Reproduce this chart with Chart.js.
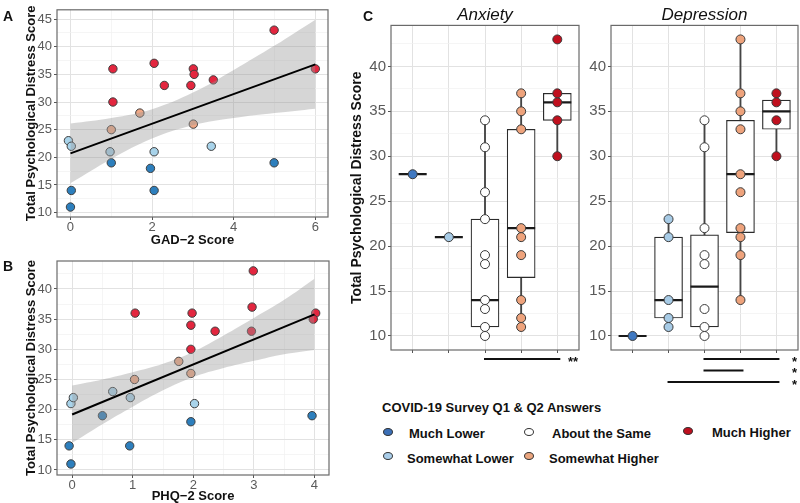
<!DOCTYPE html>
<html>
<head>
<meta charset="utf-8">
<script src="https://cdn.jsdelivr.net/npm/chart.js@4.4.1/dist/chart.umd.min.js"></script>
<style>
  body { margin: 0; background: #fff; font-family: "Liberation Sans", Arial, sans-serif; }
  #wrap { position: relative; width: 800px; height: 503px; overflow: hidden; background: #fff; }
  canvas { position: absolute; }
  .lbl { position: absolute; font-weight: bold; font-size: 13px; line-height: 13px; color: #111; white-space: nowrap; }
  .dot { position: absolute; width: 8px; height: 6px; border-radius: 50%; border: 1px solid #333; }
</style>
</head>
<body>
<div id="wrap">
  <canvas id="chartA" width="340" height="250" style="left:0;top:0"></canvas>
  <canvas id="chartB" width="340" height="264" style="left:0;top:240px"></canvas>
  <canvas id="chartAnx" width="230" height="400" style="left:350px;top:0"></canvas>
  <canvas id="chartDep" width="230" height="400" style="left:570px;top:0"></canvas>

  <div class="lbl" style="left:3px;top:10px;font-size:14px">A</div>
  <div class="lbl" style="left:3px;top:260px;font-size:14px">B</div>
  <div class="lbl" style="left:363px;top:10px;font-size:14px">C</div>

  <div class="lbl" style="left:382px;top:401px">COVID-19 Survey Q1 &amp; Q2 Answers</div>
  <div class="dot" style="left:383px;top:428px;background:#3b6fb6"></div>
  <div class="lbl" style="left:409px;top:427px">Much Lower</div>
  <div class="dot" style="left:524px;top:428px;background:#ffffff"></div>
  <div class="lbl" style="left:552px;top:427px">About the Same</div>
  <div class="dot" style="left:683px;top:427px;background:#be0f1e"></div>
  <div class="lbl" style="left:712px;top:426px">Much Higher</div>
  <div class="dot" style="left:383px;top:452px;background:#a9cde9"></div>
  <div class="lbl" style="left:407px;top:452px">Somewhat Lower</div>
  <div class="dot" style="left:524px;top:452px;background:#eaa57e"></div>
  <div class="lbl" style="left:549px;top:452px">Somewhat Higher</div>
</div>

<script>
Chart.defaults.font.family = '"Liberation Sans", Arial, Helvetica, sans-serif';
Chart.defaults.color = '#111';

// answer groups, left to right in panel C
const groups = ['Much Lower', 'Somewhat Lower', 'About the Same', 'Somewhat Higher', 'Much Higher'];
const boxColors = ['#3f78c1', '#a7cbe6', '#ffffff', '#eea37c', '#c0101e'];
const scatterColors = ['#2d7fbd', '#a8d3ea', '#ffffff', '#f0a886', '#e3263f'];

// Panel A: GAD-2 score vs total distress, [x, y]
const gadMuchLower = [[0.02, 14], [0, 11], [1, 19], [1.96, 18], [2.05, 14], [4.99, 19]];
const gadSomewhatLower = [[-0.05, 23], [0.02, 22], [0.97, 21], [2.05, 21], [3.45, 22]];
const gadSomewhatHigher = [[1, 25], [1.7, 28], [3.01, 26]];
const gadMuchHigher = [[1.04, 36], [1.04, 30], [2.05, 37], [2.3, 33], [3.01, 36], [3.03, 35], [2.95, 33], [3.5, 34], [4.99, 43], [6, 36]];
const gadFitX = [0, 6];
const gadFitY = [20.7, 36.8];
const gadBandX = [0, 1, 2, 3, 4, 5, 6];
const gadBandLow = [15.3, 19.7, 23.4, 25.8, 27.1, 28.0, 28.8];
const gadBandHigh = [26.1, 27.1, 28.7, 31.7, 35.8, 40.2, 44.9];

// Panel B: PHQ-2 score vs total distress, [x, y]
const phqMuchLower = [[-0.05, 14], [-0.02, 11], [0.5, 19], [0.95, 14], [1.96, 18], [3.96, 19]];
const phqSomewhatLower = [[-0.02, 21], [0.02, 22], [0.67, 23], [0.96, 22], [2.02, 21]];
const phqSomewhatHigher = [[1.03, 25], [1.76, 28], [1.96, 26]];
const phqMuchHigher = [[1.04, 36], [1.98, 36], [1.96, 34], [1.96, 30], [2.36, 33], [2.99, 43], [2.97, 37], [2.96, 33], [4.02, 36], [3.98, 35]];
const phqFitX = [0, 4];
const phqFitY = [19.2, 35.8];
const phqBandX = [0, 0.5, 1, 1.5, 2, 2.5, 3, 3.5, 4];
const phqBandLow = [14.5, 17.6, 20.5, 23.2, 25.4, 26.9, 28.1, 29.2, 29.9];
const phqBandHigh = [24.0, 25.0, 26.2, 27.6, 29.6, 32.3, 35.2, 38.2, 41.7];

// Panel C: Anxiety
const anxValues = [[28], [21], [34, 31, 26, 23, 19, 18, 14, 13, 11, 10], [37, 35, 33, 22, 21, 19, 14, 12, 11], [43, 37, 36, 34, 30]];
const anxQ1 = [28, 21, 11, 16.5, 34];
const anxMedian = [28, 21, 14, 22, 36];
const anxQ3 = [28, 21, 23, 33, 37];
const anxLow = [28, 21, 10, 11, 30];
const anxHigh = [28, 21, 34, 37, 37];
const anxSig = [[3, 5, '**']];

// Panel C: Depression
const depValues = [[10], [23, 21, 14, 12, 11], [34, 31, 22, 19, 18, 13, 11, 10], [43, 37, 35, 33, 28, 26, 22, 21, 19, 14], [37, 36, 34, 30]];
const depQ1 = [10, 12, 11, 21.5, 33];
const depMedian = [10, 14, 15.5, 28, 35];
const depQ3 = [10, 21, 21.25, 34, 36.25];
const depLow = [10, 11, 10, 14, 30];
const depHigh = [10, 23, 34, 43, 37];
const depSig = [[3, 5, '*'], [3, 4, '*'], [2, 5, '*']];

function pairs(list) { return list.map(([x, y]) => ({ x, y })); }
function zip(xs, ys) { return xs.map((x, i) => ({ x, y: ys[i] })); }
function isStep(v, step) { const r = v / step; return Math.abs(r - Math.round(r)) < 1e-6; }

function axis(o) {
  const major = o.major || o.step;
  const majorTick = c => !c.tick || isStep(c.tick.value, major);
  return {
    type: 'linear',
    min: o.min,
    max: o.max,
    offset: false,
    border: { display: false },
    grid: {
      offset: false,
      color: c => majorTick(c) ? '#e2e2e2' : '#f0f0f0',
      lineWidth: c => majorTick(c) ? 1 : 0.7,
      tickColor: c => (c.tick && isStep(c.tick.value, major)) ? '#555' : 'rgba(0,0,0,0)',
      tickLength: 3
    },
    ticks: {
      stepSize: o.step,
      includeBounds: false,
      autoSkip: false,
      maxRotation: 0,
      padding: o.pad != null ? o.pad : 2,
      color: '#5a5a5a',
      font: { size: o.size || 13 },
      callback: v => o.noLabels ? '' : (isStep(v, major) ? v : '')
    },
    title: o.title ? {
      display: true,
      text: o.title,
      color: '#111',
      font: { size: o.titleSize || 13, weight: 'bold', lineHeight: 1 },
      padding: o.titlePad
    } : { display: false },
    afterFit: s => {
      if (o.width != null) s.width = o.width;
      if (o.height != null) s.height = o.height;
    }
  };
}

// panel border drawn round the plot area
const framePlugin = {
  id: 'frame',
  afterDatasetsDraw(chart) {
    const { ctx, chartArea: a } = chart;
    ctx.save();
    ctx.strokeStyle = '#6a6a6a';
    ctx.lineWidth = 1.2;
    ctx.strokeRect(a.left, a.top, a.right - a.left, a.bottom - a.top);
    ctx.restore();
  }
};

// significance bars under panel C
const sigPlugin = {
  id: 'sig',
  afterDraw(chart, args, opts) {
    if (!opts.bars) return;
    const { ctx, chartArea: a } = chart;
    const xs = chart.scales.x;
    ctx.save();
    opts.bars.forEach(([from, to, label], row) => {
      const y = a.bottom + 9 + row * 11.5;
      ctx.strokeStyle = '#111';
      ctx.lineWidth = 2.2;
      ctx.beginPath();
      ctx.moveTo(xs.getPixelForValue(from) - 1, y);
      ctx.lineTo(xs.getPixelForValue(to) + 3, y);
      ctx.stroke();
      ctx.fillStyle = '#111';
      ctx.font = 'bold 13px "Liberation Sans", Arial, sans-serif';
      ctx.textAlign = 'right';
      ctx.textBaseline = 'middle';
      ctx.fillText(label, a.right - 1, y + 3);
    });
    ctx.restore();
  }
};

const baseOptions = {
  responsive: false,
  animation: false,
  events: [],
  plugins: { legend: { display: false }, tooltip: { enabled: false } }
};

function scatterPanel(id, sets, fitX, fitY, bandX, bandLow, bandHigh, xAxis, yAxis, padding) {
  const datasets = [
    { type: 'line', data: zip(fitX, fitY), borderColor: '#000', borderWidth: 2, pointRadius: 0, order: 0 },
    { type: 'line', data: zip(bandX, bandHigh), borderColor: 'rgba(0,0,0,0)', borderWidth: 0, pointRadius: 0,
      tension: 0.4, fill: '+1', backgroundColor: 'rgba(153,153,153,0.4)', order: 1 },
    { type: 'line', data: zip(bandX, bandLow), borderColor: 'rgba(0,0,0,0)', borderWidth: 0, pointRadius: 0,
      tension: 0.4, fill: false, order: 1 }
  ];
  sets.forEach(([pts, color]) => datasets.push({
    type: 'scatter', data: pairs(pts), backgroundColor: color, borderColor: '#3d3d3d',
    borderWidth: 1, pointRadius: 4.2, order: 2
  }));
  return new Chart(document.getElementById(id), {
    type: 'scatter',
    data: { datasets },
    options: { ...baseOptions, layout: { padding, autoPadding: false }, scales: { x: xAxis, y: yAxis } },
    plugins: [framePlugin]
  });
}

function boxPanel(id, title, values, q1, med, q3, lo, hi, sig, yAxis, padding) {
  const datasets = [];
  values.forEach((vals, g) => datasets.push({
    type: 'scatter', label: groups[g], data: vals.map(y => ({ x: g + 1, y })),
    backgroundColor: boxColors[g], borderColor: '#3a3a3a', borderWidth: 1, pointRadius: 4.5, order: 0
  }));
  datasets.push({
    type: 'scatter', data: med.map((y, g) => ({ x: g + 1, y })), pointStyle: 'line',
    pointRadius: 14, borderColor: '#1a1a1a', borderWidth: 2.2, order: 1
  });
  datasets.push({
    type: 'bar', data: q1.map((v, g) => ({ x: g + 1, y: [v, q3[g]] })), barThickness: 28,
    backgroundColor: '#fff', borderColor: '#2b2b2b', borderWidth: 1.2, borderSkipped: false, grouped: false, order: 2
  });
  datasets.push({
    type: 'bar', data: lo.map((v, g) => ({ x: g + 1, y: [v, hi[g]] })), barThickness: 1.2,
    backgroundColor: '#444', borderWidth: 0, grouped: false, order: 3
  });
  return new Chart(document.getElementById(id), {
    type: 'scatter',
    data: { datasets },
    options: {
      ...baseOptions,
      layout: { padding, autoPadding: false },
      plugins: {
        ...baseOptions.plugins,
        title: {
          display: true, text: title, fullSize: false, color: '#111',
          font: { size: 17, style: 'italic', weight: 'normal' }, padding: { top: 5, bottom: 0 }
        },
        sig: { bars: sig }
      },
      scales: {
        x: axis({ min: 0.4, max: 5.6, step: 1, noLabels: true, height: 50 }),
        y: yAxis
      }
    },
    plugins: [framePlugin, sigPlugin]
  });
}

scatterPanel('chartA',
  [[gadMuchLower, scatterColors[0]], [gadSomewhatLower, scatterColors[1]], [gadSomewhatHigher, scatterColors[3]], [gadMuchHigher, scatterColors[4]]],
  gadFitX, gadFitY, gadBandX, gadBandLow, gadBandHigh,
  axis({ min: -0.33, max: 6.31, step: 1, major: 2, pad: 0, height: 33, title: 'GAD\u22122 Score', titlePad: { bottom: 3 } }),
  axis({ min: 9.2, max: 46.68, step: 2.5, major: 5, width: 57, title: 'Total Psychological Distress Score', titlePad: { top: 25 } }),
  { top: 3, right: 12, left: 0, bottom: 0 });

scatterPanel('chartB',
  [[phqMuchLower, scatterColors[0]], [phqSomewhatLower, scatterColors[1]], [phqSomewhatHigher, scatterColors[3]], [phqMuchHigher, scatterColors[4]]],
  phqFitX, phqFitY, phqBandX, phqBandLow, phqBandHigh,
  axis({ min: -0.25, max: 4.24, step: 0.5, major: 1, pad: 0, height: 29, title: 'PHQ\u22122 Score', titlePad: { bottom: 1 } }),
  axis({ min: 9.17, max: 44.64, step: 2.5, major: 5, width: 57, title: 'Total Psychological Distress Score', titlePad: { top: 25 } }),
  { top: 21, right: 11, left: 0, bottom: 0 });

boxPanel('chartAnx', 'Anxiety', anxValues, anxQ1, anxMedian, anxQ3, anxLow, anxHigh, anxSig,
  axis({ min: 8.44, max: 44.56, step: 2.5, major: 5, size: 15, width: 41, title: 'Total Psychological Distress Score', titleSize: 14, titlePad: { top: 0 } }),
  { top: 0, right: 1, left: 0, bottom: 0 });

boxPanel('chartDep', 'Depression', depValues, depQ1, depMedian, depQ3, depLow, depHigh, depSig,
  axis({ min: 8.44, max: 44.56, step: 2.5, major: 5, size: 15, width: 41 }),
  { top: 0, right: 2, left: 0, bottom: 0 });
</script>
</body>
</html>
